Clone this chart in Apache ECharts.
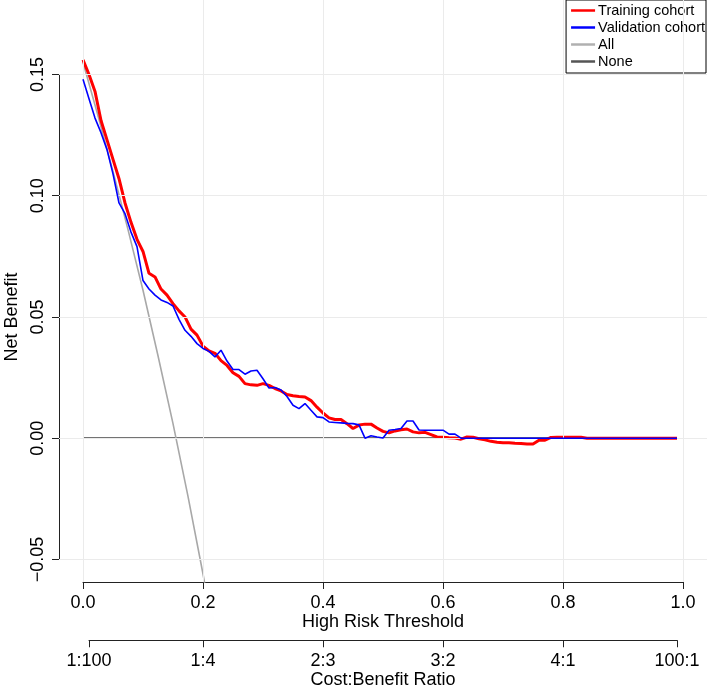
<!DOCTYPE html>
<html>
<head>
<meta charset="utf-8">
<script src="https://cdn.jsdelivr.net/npm/echarts@6/dist/echarts.min.js"></script>
<style>
html,body{margin:0;padding:0;background:#fff;}
#chart{width:708px;height:688px;}
</style>
</head>
<body>
<div id="chart"></div>
<script>
// ---- data ----
const thresholds = [0.00,0.01,0.02,0.03,0.04,0.05,0.06,0.07,0.08,0.09,
  0.10,0.11,0.12,0.13,0.14,0.15,0.16,0.17,0.18,0.19,
  0.20,0.21,0.22,0.23,0.24,0.25,0.26,0.27,0.28,0.29,
  0.30,0.31,0.32,0.33,0.34,0.35,0.36,0.37,0.38,0.39,
  0.40,0.41,0.42,0.43,0.44,0.45,0.46,0.47,0.48,0.49,
  0.50,0.51,0.52,0.53,0.54,0.55,0.56,0.57,0.58,0.59,
  0.60,0.61,0.62,0.63,0.64,0.65,0.66,0.67,0.68,0.69,
  0.70,0.71,0.72,0.73,0.74,0.75,0.76,0.77,0.78,0.79,
  0.80,0.81,0.82,0.83,0.84,0.85,0.86,0.87,0.88,0.89,
  0.90,0.91,0.92,0.93,0.94,0.95,0.96,0.97,0.98,0.99];

const trainingCohort = [0.156,0.150,0.143,0.131,0.123,0.115,0.107,0.097,0.089,0.082,
  0.077,0.068,0.0665,0.0615,0.059,0.0555,0.0525,0.050,0.045,0.0425,
  0.038,0.036,0.035,0.032,0.030,0.027,0.0255,0.0225,0.022,0.0218,
  0.0225,0.0218,0.0205,0.0195,0.018,0.0175,0.0172,0.017,0.0155,0.0128,
  0.0104,0.0084,0.0077,0.0077,0.006,0.004,0.0054,0.0058,0.0058,0.0042,
  0.0028,0.0022,0.0030,0.0035,0.0038,0.0026,0.0022,0.0024,0.0015,0.0005,
  0.0004,0.0002,0.0001,-0.0004,0.0005,0.0004,-0.0002,-0.0007,-0.0013,-0.0017,
  -0.0019,-0.0019,-0.0021,-0.0022,-0.0024,-0.0024,-0.0008,-0.0008,0.0003,0.0004,
  0.0004,0.0004,0.0004,0.0004,0,0,0,0,0,0,
  0,0,0,0,0,0,0,0,0,0];

const validationCohort = [0.148,0.140,0.132,0.126,0.119,0.109,0.097,0.0926,0.085,0.079,
  0.065,0.0615,0.059,0.057,0.056,0.0545,0.049,0.0445,0.042,0.039,
  0.037,0.0358,0.0335,0.0363,0.0318,0.0283,0.0283,0.0264,0.0277,0.028,
  0.0245,0.0207,0.0209,0.0199,0.0172,0.0136,0.0122,0.0143,0.0115,0.0088,
  0.0085,0.0067,0.0065,0.0063,0.0061,0.006,0.0055,0.0,0.0010,0.0005,
  0.0001,0.0033,0.0036,0.004,0.0071,0.0071,0.0034,0.0033,0.0033,0.0033,
  0.0033,0.0017,0.0017,0,0,0,0,0,0,0,
  0,0,0,0,0,0,0,0,0,0,
  0,0,0,0,0,0,0,0,0,0,
  0,0,0,0,0,0,0,0,0,0];

const allThresholds = [0, 0.025, 0.05, 0.075, 0.1, 0.125, 0.15, 0.175, 0.2, 0.225];
const allValues = [0.155, 0.133, 0.110, 0.086, 0.061, 0.034, 0.006, -0.024, -0.056, -0.090];

const noneThresholds = [0, 0.99];
const noneValues = [0, 0];

const xGridValues = [0, 0.2, 0.4, 0.6, 0.8, 1.0];
const yGridValues = [-0.05, 0, 0.05, 0.10, 0.15];
const costPositions = [0.01, 0.2, 0.4, 0.6, 0.8, 0.99];
const costLabels = ['1:100', '1:4', '2:3', '3:2', '4:1', '100:1'];

const seriesNames = ['Training cohort', 'Validation cohort', 'All', 'None'];

// ---- chart ----
const FONT = '"Liberation Sans", Arial, sans-serif';
const zip = (xs, ys) => xs.map((x, i) => [x, ys[i]]);
const axisColor = '#222';

const chart = echarts.init(document.getElementById('chart'), null, {renderer: 'canvas'});

const option = {
  animation: false,
  backgroundColor: '#fff',
  textStyle: {fontFamily: FONT},
  legend: {
    data: seriesNames.map(n => ({name: n, icon: 'rect'})),
    orient: 'vertical',
    right: 2,
    top: 0,
    padding: [3, 1, 4, 5],
    itemGap: 2,
    itemWidth: 24,
    itemHeight: 2.5,
    borderColor: '#000',
    borderWidth: 1,
    borderRadius: 0,
    backgroundColor: '#fff',
    textStyle: {fontSize: 14.5, lineHeight: 14, color: '#000', fontFamily: FONT, padding: [0, 0, 0, -2]}
  },
  grid: [
    {left: 59, right: 1, top: 0, bottom: 106},
    {left: 59, width: 1, top: 74.5, bottom: 128.5},
    {left: 83, right: 25, top: 581, bottom: 106},
    {left: 89, right: 31, top: 640, bottom: 47}
  ],
  xAxis: [
    {gridIndex: 0, type: 'value', min: -0.04, max: 1.04, show: false},
    {gridIndex: 1, type: 'value', min: 0, max: 1, show: false},
    {
      gridIndex: 2, type: 'value', min: 0, max: 1, interval: 0.2,
      axisLine: {show: true, lineStyle: {color: axisColor, width: 1}},
      axisTick: {show: true, length: 7, lineStyle: {color: axisColor, width: 1}},
      axisLabel: {fontSize: 18, color: '#000', margin: 12, fontFamily: FONT,
        formatter: v => v.toFixed(1)},
      splitLine: {show: false},
      name: 'High Risk Threshold', nameLocation: 'middle', nameGap: 29,
      nameTextStyle: {fontSize: 18, color: '#000', fontFamily: FONT}
    },
    {
      gridIndex: 3, type: 'value', min: 0.01, max: 0.99,
      axisLine: {show: true, lineStyle: {color: axisColor, width: 1}},
      axisTick: {show: true, length: 7, customValues: costPositions, lineStyle: {color: axisColor, width: 1}},
      axisLabel: {fontSize: 18, color: '#000', margin: 12, fontFamily: FONT,
        customValues: costPositions,
        showMinLabel: true, showMaxLabel: true,
        formatter: v => {
          let best = 0;
          costPositions.forEach((p, i) => { if (Math.abs(p - v) < Math.abs(costPositions[best] - v)) best = i; });
          return costLabels[best];
        }},
      splitLine: {show: false},
      name: 'Cost:Benefit Ratio', nameLocation: 'middle', nameGap: 29,
      nameTextStyle: {fontSize: 18, color: '#000', fontFamily: FONT}
    }
  ],
  yAxis: [
    {gridIndex: 0, type: 'value', min: -0.0593, max: 0.1807, show: false},
    {
      gridIndex: 1, type: 'value', min: -0.05, max: 0.15, interval: 0.05, position: 'left',
      axisLine: {show: true, lineStyle: {color: axisColor, width: 1}},
      axisTick: {show: true, length: 7, lineStyle: {color: axisColor, width: 1}},
      axisLabel: {fontSize: 18, color: '#000', margin: 12, rotate: 90, fontFamily: FONT,
        formatter: v => (Math.abs(v) < 1e-9 ? '0.00' : v.toFixed(2).replace('-', '\u2212'))},
      splitLine: {show: false},
      name: 'Net Benefit', nameLocation: 'middle', nameGap: 38, nameRotate: 90,
      nameTextStyle: {fontSize: 18, color: '#000', fontFamily: FONT}
    },
    {gridIndex: 2, type: 'value', show: false},
    {gridIndex: 3, type: 'value', show: false}
  ],
  series: [
    {
      name: 'gridlines', type: 'line', xAxisIndex: 0, yAxisIndex: 0, data: [], silent: true, z: 0,
      markLine: {
        silent: true, symbol: 'none', label: {show: false},
        lineStyle: {color: '#ebebeb', width: 1, type: 'solid'},
        emphasis: {disabled: true},
        data: xGridValues.map(v => ({xAxis: v})).concat(yGridValues.map(v => ({yAxis: v})))
      }
    },
    {
      name: 'None', type: 'line', xAxisIndex: 0, yAxisIndex: 0, symbol: 'none',
      data: zip(noneThresholds, noneValues), z: 2,
      lineStyle: {color: '#444444', width: 1.8}, itemStyle: {color: '#555555'}
    },
    {
      name: 'All', type: 'line', xAxisIndex: 0, yAxisIndex: 0, symbol: 'none', clip: true,
      data: zip(allThresholds, allValues), z: 3,
      lineStyle: {color: '#a8a8a8', width: 1.6}, itemStyle: {color: '#b0b0b0'}
    },
    {
      name: 'Training cohort', type: 'line', xAxisIndex: 0, yAxisIndex: 0, symbol: 'none',
      data: zip(thresholds, trainingCohort), z: 4,
      lineStyle: {color: '#ff0000', width: 3}, itemStyle: {color: '#ff0000'}
    },
    {
      name: 'Validation cohort', type: 'line', xAxisIndex: 0, yAxisIndex: 0, symbol: 'none',
      data: zip(thresholds, validationCohort), z: 5,
      lineStyle: {color: '#0000ff', width: 1.6}, itemStyle: {color: '#0000ff'}
    }
  ]
};
chart.setOption(option);
</script>
</body>
</html>
